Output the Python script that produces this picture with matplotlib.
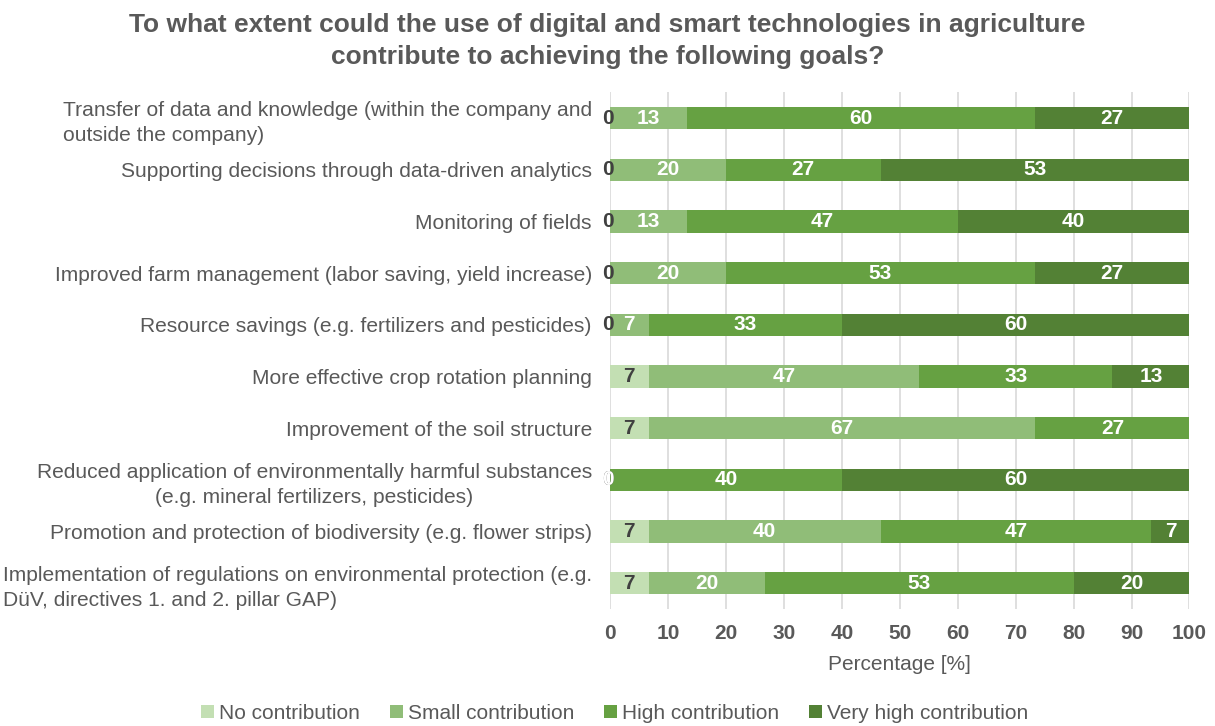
import matplotlib
matplotlib.use('Agg')
import matplotlib.pyplot as plt
import numpy as np

plt.rcParams['font.family'] = ['Liberation Sans', 'DejaVu Sans']

# categories, top to bottom
cats = [
    'Transfer of data and knowledge (within the company and\noutside the company)',
    'Supporting decisions through data-driven analytics',
    'Monitoring of fields',
    'Improved farm management (labor saving, yield increase)',
    'Resource savings (e.g. fertilizers and pesticides)',
    'More effective crop rotation planning',
    'Improvement of the soil structure',
    'Reduced application of environmentally harmful substances\n(e.g. mineral fertilizers, pesticides)',
    'Promotion and protection of biodiversity (e.g. flower strips)',
    'Implementation of regulations on environmental protection (e.g.\nDüV, directives 1. and 2. pillar GAP)',
]
no_contrib = [0, 0, 0, 0, 0, 6.7, 6.7, 0, 6.7, 6.7]
small_contrib = [13.3, 20.0, 13.3, 20.0, 6.7, 46.7, 66.7, 0, 40.0, 20.0]
high_contrib = [60.0, 26.7, 46.7, 53.3, 33.3, 33.3, 26.7, 40.0, 46.7, 53.3]
very_high = [26.7, 53.3, 40.0, 26.7, 60.0, 13.3, 0, 60.0, 6.7, 20.0]

series = ['No contribution', 'Small contribution', 'High contribution', 'Very high contribution']
colors = ['#C3DFB3', '#90BD78', '#66A142', '#538135']
txt_colors = ['#404040', 'white', 'white', 'white']
gray = '#595959'

fig = plt.figure(figsize=(12.15, 7.26), dpi=100)
ax = fig.add_axes([0.502, 0.161, 0.477, 0.712])

y = np.arange(len(cats))
left = np.zeros(len(cats))
allvals = [no_contrib, small_contrib, high_contrib, very_high]
for k, (name, vals, c, tc) in enumerate(zip(series, allvals, colors, txt_colors)):
    vals = np.array(vals)
    ax.barh(y, vals, left=left, height=0.43, color=c, label=name, zorder=2)
    for yi, l, v in zip(y, left, vals):
        if v == 0 and k == 3:
            continue
        ax.text(l + v / 2 - (0.4 if v == 0 else 0), yi, f'{round(v):.0f}', ha='center', va='center',
                color=tc, fontsize=15, fontweight='bold', zorder=3)
    left += vals

ax.set_ylim(len(cats) - 0.5, -0.5)
ax.set_xlim(0, 100)
ax.set_xticks(np.arange(0, 101, 10))
ax.set_yticks(y)
ax.set_yticklabels(cats, fontsize=15.1, color=gray, linespacing=1.4)
aligns = ['left', 'right', 'right', 'right', 'right', 'right', 'right', 'center', 'right', 'left']
for lab, a in zip(ax.get_yticklabels(), aligns):
    lab.set_multialignment(a)
ax.tick_params(axis='x', length=0, labelsize=15, labelcolor=gray, pad=11)
ax.tick_params(axis='y', length=0, pad=13)
for lab in ax.get_xticklabels():
    lab.set_fontweight('bold')
ax.grid(axis='x', color='#D9D9D9', lw=1.2, zorder=0)
for s in ax.spines.values():
    s.set_visible(False)
ax.set_xlabel('Percentage [%]', fontsize=15, color=gray, labelpad=8)

fig.suptitle('To what extent could the use of digital and smart technologies in agriculture\ncontribute to achieving the following goals?',
             fontsize=19, fontweight='bold', color=gray, y=0.982, linespacing=1.4)

fig.legend(loc='lower center', bbox_to_anchor=(0.506, -0.022), ncol=4, frameon=False,
           fontsize=15, labelcolor=gray, handlelength=0.6, handleheight=0.6,
           handletextpad=0.25, columnspacing=1.45)

plt.savefig('out.png', dpi=100)
plt.close()
